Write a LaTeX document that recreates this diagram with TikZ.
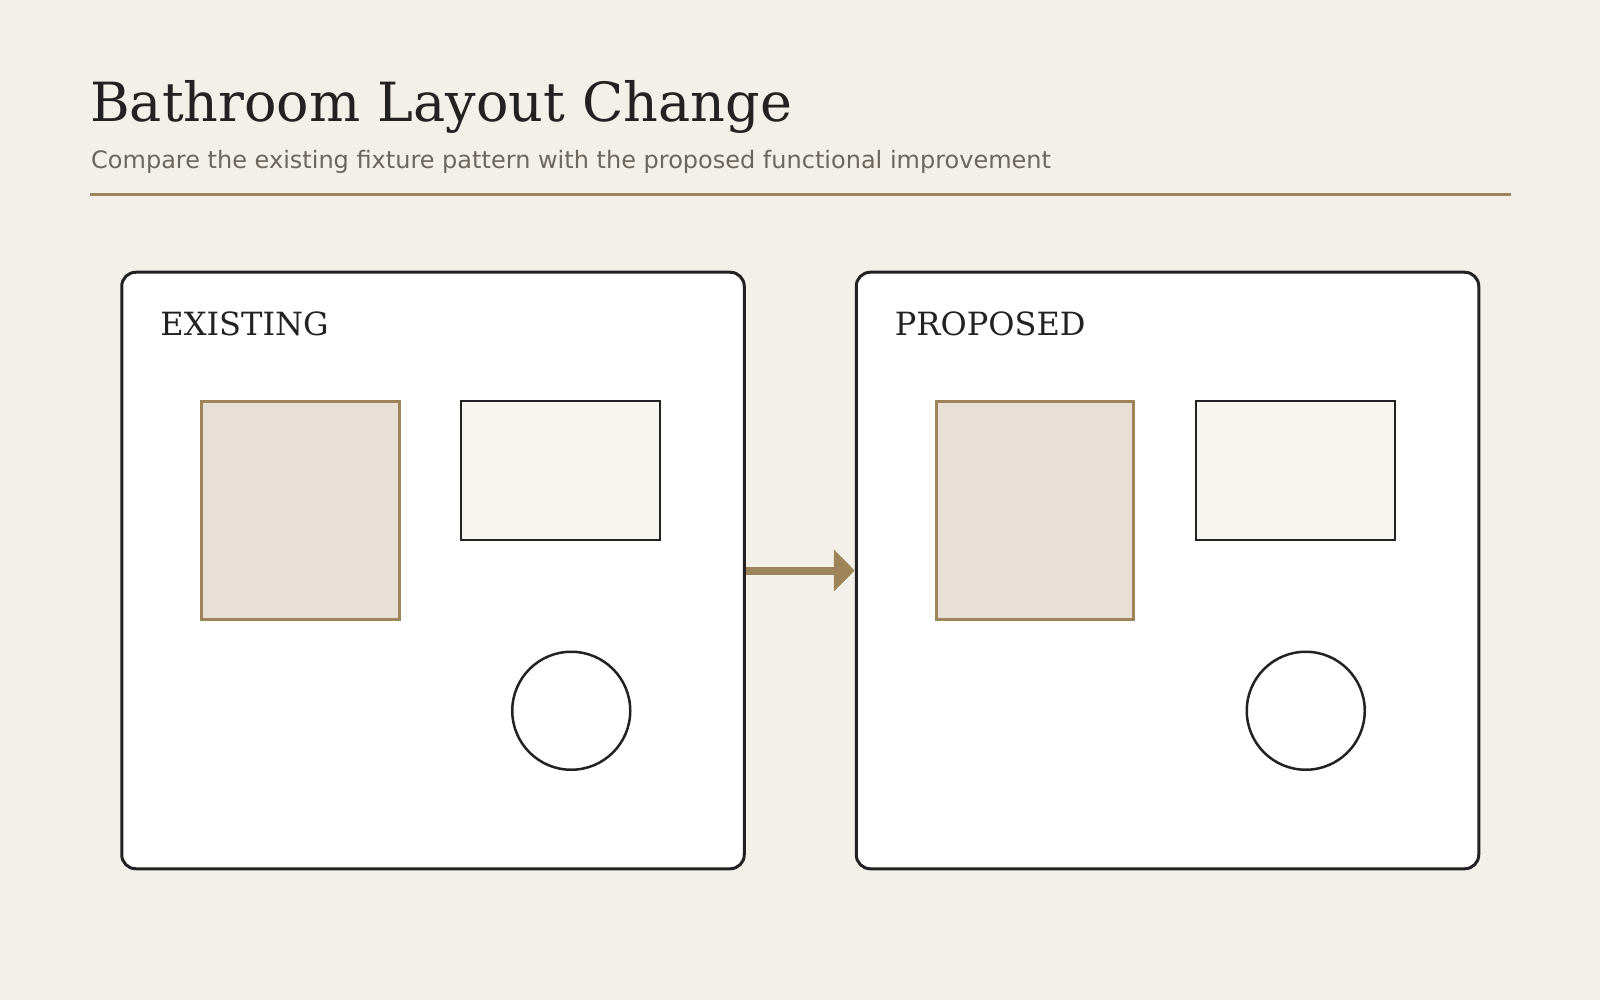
\documentclass[tikz,border=0pt]{standalone}
\usepackage{fontspec}
\setmainfont{DejaVu Serif}
\newfontfamily\subfont{DejaVu Sans}
\usetikzlibrary{calc,positioning,arrows.meta}
\definecolor{paper}{HTML}{F3F0E9}
\definecolor{ink}{HTML}{222222}
\definecolor{brass}{HTML}{9E8459}
\definecolor{tile}{HTML}{E8E0D6}
\definecolor{basin}{HTML}{F6F5F0}
\definecolor{muted}{HTML}{6B665E}
\tikzset{
  panel/.style={draw=ink,line width=3pt,fill=white,rounded corners=14pt,minimum width=622.5pt,minimum height=596.5pt,inner sep=0pt},
  shower/.style={draw=brass,line width=3pt,fill=tile,minimum width=197.5pt,minimum height=218.5pt,inner sep=0pt,anchor=north west},
  vanity/.style={draw=ink,line width=2pt,fill=basin,minimum width=199pt,minimum height=139pt,inner sep=0pt,anchor=north west},
  wc/.style={circle,draw=ink,line width=2.5pt,fill=white,minimum size=118pt,inner sep=0pt},
  paneltitle/.style={font=\fontsize{32}{36}\selectfont,text=ink,inner sep=0pt,anchor=base west},
}
\begin{document}
\begin{tikzpicture}[x=1pt,y=-1pt]
\fill[paper] (0,0) rectangle (1600,1000);
\useasboundingbox (0,0) rectangle (1600,1000);
\node[anchor=base west,inner sep=0pt,text=ink,font=\fontsize{54}{60}\selectfont] at (90,122) (title) {Bathroom Layout Change};
\node[anchor=base west,inner sep=0pt,text=muted,font=\subfont\fontsize{24}{28}\selectfont] at (91,169) (sub) {Compare the existing fixture pattern with the proposed functional improvement};
\coordinate (rule-l) at (90,195);
\coordinate (rule-r) at (1511,195);
\draw[brass,line width=3pt] (rule-l) -- (rule-r);
% the two plans
\node[panel] at (433,570.5) (exist) {};
\node[panel,right=109pt of exist] (prop) {};
\foreach \p/\lbl in {exist/EXISTING,prop/PROPOSED}{
  \node[paneltitle] at ($(\p.north west)+(40,65)$) (\p-name) {\lbl};
  \node[shower] at ($(\p.north west)+(80,129)$) (\p-shower) {};
  \node[vanity] at ($(\p.north west)+(340,129)$) (\p-vanity) {};
  \node[wc] at ($(\p.north west)+(451,440)$) (\p-wc) {};
}
\draw[brass,line width=8pt,-{Triangle[length=21pt,width=41pt]}] (exist.east) -- (prop.west);
\end{tikzpicture}
\end{document}
